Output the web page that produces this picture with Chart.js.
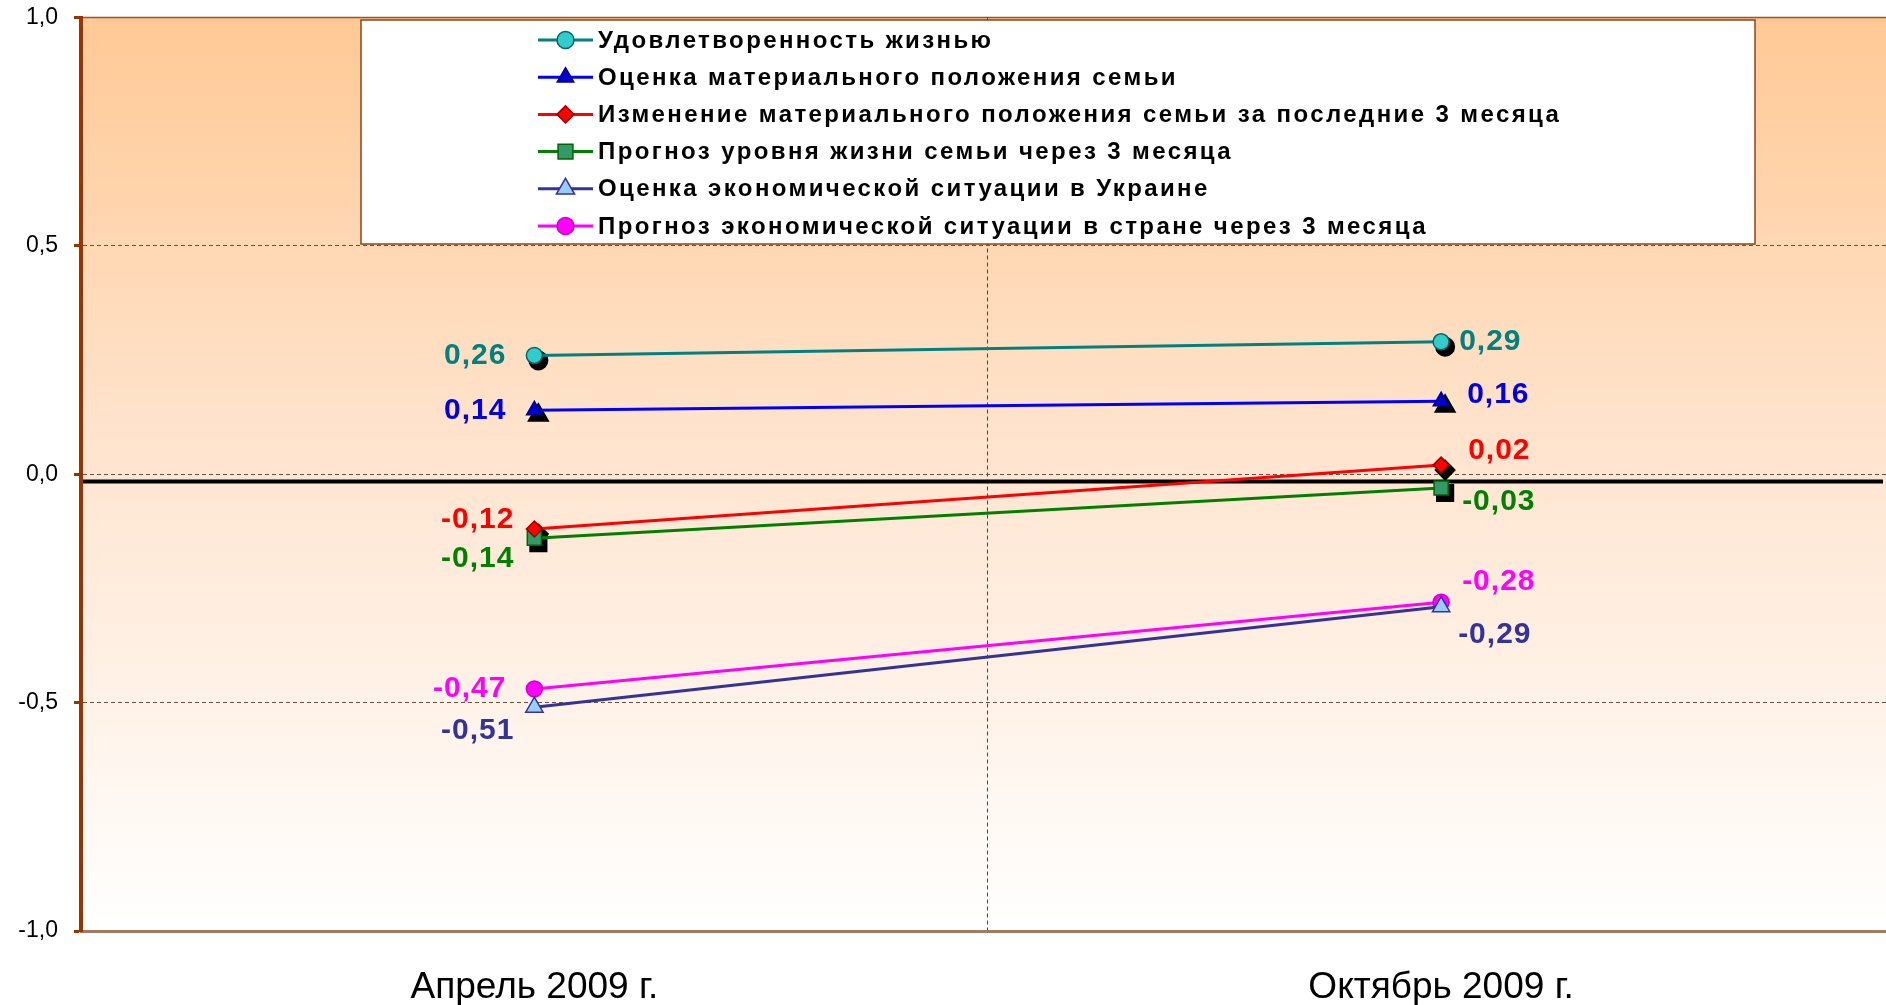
<!DOCTYPE html>
<html>
<head>
<meta charset="utf-8">
<script src="https://cdn.jsdelivr.net/npm/chart.js"></script>
<style>
    html, body { margin: 0; padding: 0; background: #ffffff; overflow: hidden; }
    #indexChart { display: block; }
</style>
</head>
<body>
<canvas id="indexChart" width="1906" height="1005"></canvas>
<script>
// data
const aCategories = ["Апрель 2009 г.", "Октябрь 2009 г."];
const aSeriesNames = [
    "Удовлетворенность жизнью",
    "Оценка материального положения семьи",
    "Изменение материального положения семьи за последние 3 месяца",
    "Прогноз уровня жизни семьи через 3 месяца",
    "Оценка экономической ситуации в Украине",
    "Прогноз экономической ситуации в стране через 3 месяца"
];
const aLifeSatisfaction = [0.26, 0.29];
const aFamilyWealth = [0.14, 0.16];
const aWealthChange = [-0.12, 0.02];
const aLivingForecast = [-0.14, -0.03];
const aEconomyUkraine = [-0.51, -0.29];
const aEconomyForecast = [-0.47, -0.28];
const aYTicks = [-1, -0.5, 0, 0.5, 1];

const sFont = "'Liberation Sans', Arial, sans-serif";
const sAxisBrown = "#993300";

// styles per series (same order as names)
const aStyles = [
    { line: "#008080", fill: "#33CCCC", edge: "#006666", shape: "circle", r: 8, shadow: true, text: "#008080", off: [[-28, 0], [18, 0]] },
    { line: "#0000FF", fill: "#0000CC", edge: "#000099", shape: "triangle", r: 9, shadow: true, text: "#0000E6", off: [[-28, 0], [26, -6]] },
    { line: "#FF0000", fill: "#FF0000", edge: "#990000", shape: "rectRot", r: 8, shadow: true, text: "#FF0000", off: [[-20, -9], [27, -14]] },
    { line: "#008000", fill: "#339966", edge: "#006600", shape: "rect", r: 10, shadow: true, text: "#008000", off: [[-20, 21], [21, 14]] },
    { line: "#333399", fill: "#99CCFF", edge: "#333399", shape: "triangle", r: 10, shadow: false, text: "#333399", off: [[-20, 24], [17, 28]] },
    { line: "#FF00FF", fill: "#FF00FF", edge: "#CC00CC", shape: "circle", r: 8, shadow: false, text: "#FF00FF", off: [[-28, 0], [21, -20]] }
];
const aValues = [aLifeSatisfaction, aFamilyWealth, aWealthChange, aLivingForecast, aEconomyUkraine, aEconomyForecast];

function fmt(v, n) {
    return v.toFixed(n).replace(".", ",");
}

let aData = [];
aValues.forEach((item, i) => {
    const st = aStyles[i];
    aData.push({
        label: aSeriesNames[i],
        data: item,
        borderColor: st.line,
        borderWidth: 3,
        pointStyle: st.shape,
        pointRadius: st.r,
        pointHoverRadius: st.r,
        pointBackgroundColor: st.fill,
        pointBorderColor: st.edge,
        pointBorderWidth: 1.5,
        fill: false,
        tension: 0
    });
});

// peach gradient + frame top line
const backgroundPlugin = {
    id: "backgroundPlugin",
    beforeDraw(chart) {
        const { ctx, chartArea: a } = chart;
        const g = ctx.createLinearGradient(0, a.top, 0, a.bottom);
        g.addColorStop(0, "#FFC995");
        g.addColorStop(0.5, "#FFE6D2");
        g.addColorStop(1, "#FFFFFF");
        ctx.save();
        ctx.fillStyle = g;
        ctx.fillRect(a.left, a.top, a.right - a.left, a.bottom - a.top);
        ctx.strokeStyle = "#A0522D";
        ctx.lineWidth = 1.5;
        ctx.beginPath();
        ctx.moveTo(a.left, a.top);
        ctx.lineTo(a.right, a.top);
        ctx.stroke();
        ctx.restore();
    }
};

// thick black line just under zero, and black shadows of markers
const underPlugin = {
    id: "underPlugin",
    beforeDatasetsDraw(chart) {
        const { ctx, chartArea: a, scales } = chart;
        const y = scales.y.getPixelForValue(-0.016);
        ctx.save();
        ctx.strokeStyle = "#000000";
        ctx.lineWidth = 4;
        ctx.beginPath();
        ctx.moveTo(a.left + 2, y);
        ctx.lineTo(Math.min(a.right, 1883), y);
        ctx.stroke();
        chart.data.datasets.forEach((ds, i) => {
            if (!aStyles[i].shadow) return;
            chart.getDatasetMeta(i).data.forEach(pt => {
                ctx.fillStyle = "#000000";
                ctx.strokeStyle = "#000000";
                Chart.helpers.drawPoint(ctx, { pointStyle: aStyles[i].shape, radius: aStyles[i].r, rotation: 0, borderWidth: 1 }, pt.x + 4, pt.y + 5);
            });
        });
        ctx.restore();
    }
};

// value labels
const labelPlugin = {
    id: "labelPlugin",
    afterDatasetsDraw(chart) {
        const { ctx } = chart;
        ctx.save();
        ctx.font = "bold 30px " + sFont;
        ctx.textBaseline = "middle";
        ctx.letterSpacing = "1px";
        chart.data.datasets.forEach((ds, i) => {
            chart.getDatasetMeta(i).data.forEach((pt, j) => {
                const o = aStyles[i].off[j];
                ctx.fillStyle = aStyles[i].text;
                ctx.textAlign = o[0] < 0 ? "right" : "left";
                ctx.fillText(fmt(ds.data[j], 2), pt.x + o[0], pt.y + o[1]);
            });
        });
        ctx.restore();
    }
};

// legend box inside the plot
const legendBoxPlugin = {
    id: "legendBoxPlugin",
    afterDraw(chart) {
        const { ctx } = chart;
        const bx = 361, by = 20, bw = 1394, bh = 224;
        ctx.save();
        ctx.fillStyle = "#FFFFFF";
        ctx.fillRect(bx, by, bw, bh);
        ctx.strokeStyle = "#8B4513";
        ctx.lineWidth = 1.5;
        ctx.strokeRect(bx, by, bw, bh);
        ctx.font = "bold 24px " + sFont;
        ctx.letterSpacing = "2.4px";
        ctx.textBaseline = "middle";
        ctx.textAlign = "left";
        chart.data.datasets.forEach((ds, i) => {
            const st = aStyles[i];
            const y = 40 + i * 37.2;
            ctx.strokeStyle = st.line;
            ctx.lineWidth = 3;
            ctx.beginPath();
            ctx.moveTo(538, y);
            ctx.lineTo(593, y);
            ctx.stroke();
            ctx.fillStyle = st.fill;
            ctx.strokeStyle = st.edge;
            ctx.lineWidth = 1.5;
            Chart.helpers.drawPoint(ctx, { pointStyle: st.shape, radius: st.r + 0.5, rotation: 0, borderWidth: 1.5 }, 565.5, y);
            ctx.fillStyle = "#000000";
            ctx.fillText(ds.label, 598, y + 1);
        });
        ctx.restore();
    }
};

const config = {
    type: "line",
    data: {
        labels: aCategories,
        datasets: aData
    },
    options: {
        responsive: false,
        animation: false,
        devicePixelRatio: 1,
        layout: {
            padding: { top: 17.5, left: 0, right: 0, bottom: 0 }
        },
        plugins: {
            legend: { display: false },
            title: { display: false },
            tooltip: { enabled: false }
        },
        scales: {
            x: {
                offset: true,
                afterFit: (scale) => {
                    scale.height = 74;
                    scale.paddingLeft = 0;
                    scale.paddingRight = 0;
                },
                grid: {
                    offset: true,
                    drawTicks: false,
                    lineWidth: 1,
                    color: (c) => (c.index === 1 ? "#444444" : "rgba(0,0,0,0)")
                },
                border: { display: true, color: "#A07A62", width: 3, dash: [4, 3] },
                ticks: {
                    padding: 35,
                    color: "#000000",
                    font: { family: sFont, size: 37 }
                }
            },
            y: {
                min: -1,
                max: 1,
                afterFit: (scale) => {
                    scale.width = 81;
                    scale.paddingTop = 0;
                    scale.paddingBottom = 0;
                },
                afterBuildTicks: (scale) => { scale.ticks = aYTicks.map(v => ({ value: v })); },
                grid: {
                    lineWidth: 1,
                    color: (c) => (c.tick && Math.abs(c.tick.value) === 1 ? "rgba(0,0,0,0)" : "#6B5040"),
                    tickColor: sAxisBrown,
                    tickWidth: 3,
                    tickLength: 7,
                    tickBorderDash: []
                },
                border: { display: true, color: sAxisBrown, width: 4, dash: [4, 3] },
                ticks: {
                    padding: 16,
                    color: "#000000",
                    font: { family: sFont, size: 23 },
                    callback: (v) => fmt(v, 1)
                }
            }
        }
    },
    plugins: [backgroundPlugin, underPlugin, labelPlugin, legendBoxPlugin]
};

const indexChart = new Chart(document.getElementById("indexChart").getContext("2d"), config);
</script>
</body>
</html>
